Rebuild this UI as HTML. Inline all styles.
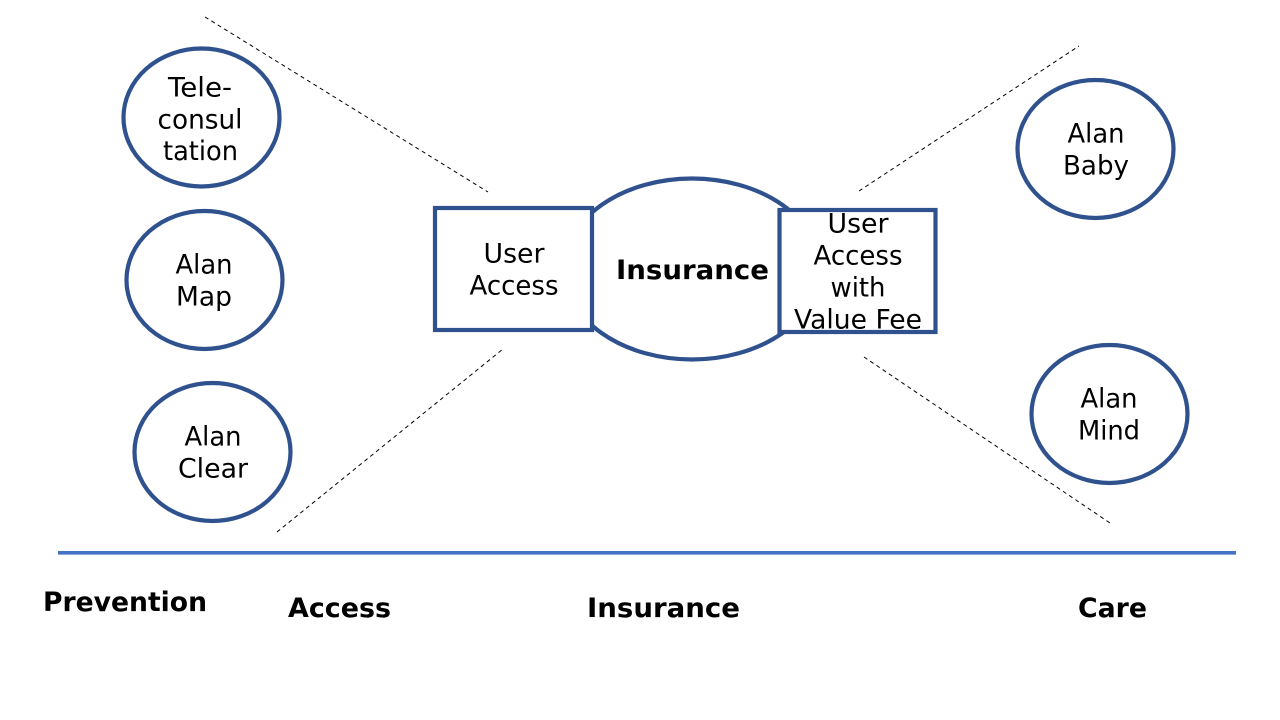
<!DOCTYPE html>
<html>
<head>
<meta charset="utf-8">
<style>
html,body{margin:0;padding:0;background:#fff;width:1280px;height:720px;overflow:hidden}
svg{display:block}
text{font-family:"DejaVu Sans","Liberation Sans",sans-serif;fill:#000;text-anchor:middle;font-size:27px}
.b{font-weight:bold;font-size:27px}
</style>
</head>
<body>
<svg width="1280" height="720" viewBox="0 0 1280 720" xmlns="http://www.w3.org/2000/svg">
<rect width="1280" height="720" fill="#fff"/>
<g fill="none" stroke="#2f528f" stroke-width="4.200">
<ellipse cx="201.500" cy="117.500" rx="78" ry="69"/>
<ellipse cx="204.500" cy="280" rx="78" ry="69"/>
<ellipse cx="212.500" cy="452" rx="78" ry="69"/>
<ellipse cx="1095.500" cy="149" rx="78" ry="69"/>
<ellipse cx="1109.500" cy="414" rx="78" ry="69"/>
<ellipse cx="692" cy="269" rx="128" ry="90.500"/>
</g>
<rect x="435" y="208" width="157" height="122" fill="#fff" stroke="#2f528f" stroke-width="4.200"/>
<rect x="779.500" y="210" width="156" height="122" fill="#fff" stroke="#2f528f" stroke-width="4.200"/>
<g stroke="#000" stroke-width="1" stroke-dasharray="4 3.500" fill="none">
<line x1="205" y1="17" x2="488" y2="192"/>
<line x1="277" y1="532" x2="503" y2="349"/>
<line x1="859" y1="191" x2="1079" y2="46"/>
<line x1="864" y1="357" x2="1110" y2="523"/>
</g>
<line x1="58" y1="552.800" x2="1236" y2="552.800" stroke="#4472c4" stroke-width="3.700"/>
<text x="200" y="96.500" textLength="64" lengthAdjust="spacingAndGlyphs">Tele-</text>
<text x="200" y="128.500" textLength="85" lengthAdjust="spacingAndGlyphs">consul</text>
<text x="200.500" y="160" textLength="75" lengthAdjust="spacingAndGlyphs">tation</text>
<text x="204" y="273.500" textLength="57" lengthAdjust="spacingAndGlyphs">Alan</text>
<text x="204" y="305.500" textLength="56" lengthAdjust="spacingAndGlyphs">Map</text>
<text x="213" y="445.500" textLength="57" lengthAdjust="spacingAndGlyphs">Alan</text>
<text x="213" y="477.500" textLength="70" lengthAdjust="spacingAndGlyphs">Clear</text>
<text x="1096" y="142.500" textLength="57" lengthAdjust="spacingAndGlyphs">Alan</text>
<text x="1096" y="174.500" textLength="66" lengthAdjust="spacingAndGlyphs">Baby</text>
<text x="1109" y="407.500" textLength="57" lengthAdjust="spacingAndGlyphs">Alan</text>
<text x="1109" y="439.500" textLength="62" lengthAdjust="spacingAndGlyphs">Mind</text>
<text x="514" y="262.500" textLength="61" lengthAdjust="spacingAndGlyphs">User</text>
<text x="514" y="294.500" textLength="89" lengthAdjust="spacingAndGlyphs">Access</text>
<text x="858" y="232.500" textLength="61" lengthAdjust="spacingAndGlyphs">User</text>
<text x="858" y="264.500" textLength="89" lengthAdjust="spacingAndGlyphs">Access</text>
<text x="858" y="296.500" textLength="55" lengthAdjust="spacingAndGlyphs">with</text>
<text x="858" y="328.500" textLength="128" lengthAdjust="spacingAndGlyphs">Value Fee</text>
<text class="b" x="692.500" y="279" textLength="153" lengthAdjust="spacingAndGlyphs">Insurance</text>
<text class="b" x="125" y="611" textLength="164" lengthAdjust="spacingAndGlyphs">Prevention</text>
<text class="b" x="339.500" y="617" textLength="103" lengthAdjust="spacingAndGlyphs">Access</text>
<text class="b" x="663.500" y="617" textLength="153" lengthAdjust="spacingAndGlyphs">Insurance</text>
<text class="b" x="1112.500" y="617" textLength="69" lengthAdjust="spacingAndGlyphs">Care</text>
</svg>
</body>
</html>
